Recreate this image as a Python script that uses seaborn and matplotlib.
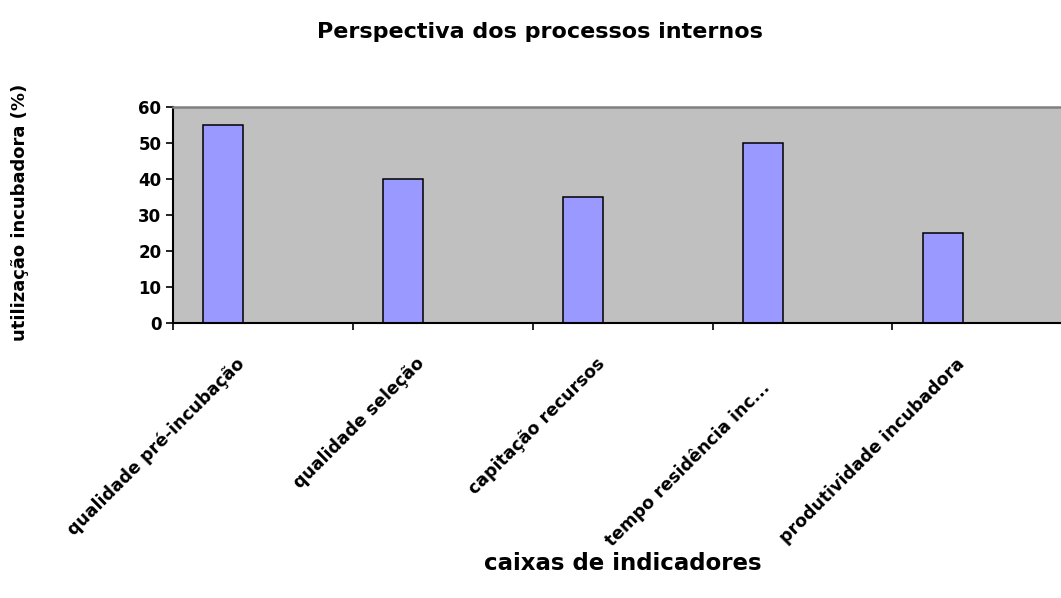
import matplotlib
matplotlib.use("Agg")
import matplotlib.pyplot as plt
from matplotlib.transforms import ScaledTranslation
import seaborn as sns
import pandas as pd

categories = [
    "qualidade pré-incubação",
    "qualidade seleção",
    "capitação recursos",
    "tempo residência inc...",
    "produtividade incubadora",
]
values = [55, 40, 35, 50, 25]
y_ticks = [0, 10, 20, 30, 40, 50, 60]

title = "Perspectiva dos processos internos"
x_title = "caixas de indicadores"
y_title = "utilização incubadora (%)"

sns.set_style("white")
plt.rcParams["font.family"] = ["DejaVu Sans"]
plt.rcParams["font.weight"] = "bold"
plt.rcParams["text.color"] = "black"
plt.rcParams["xtick.color"] = "black"
plt.rcParams["ytick.color"] = "black"

W, H = 1061, 598
fig = plt.figure(figsize=(W / 100, H / 100), dpi=100)
fig.patch.set_facecolor("white")

# plot area runs past the right edge of the canvas
ax = fig.add_axes([172.5 / W, 1 - 322.5 / H, 900 / W, 215.5 / H])
ax.set_facecolor("#C0C0C0")

df = pd.DataFrame({"cat": categories, "val": values})
sns.barplot(data=df, x="cat", y="val", ax=ax, color="#9999FF",
            width=0.225, saturation=1, edgecolor="black", linewidth=1.1)

offset = 0.28
ax.set_xlim(-offset, len(categories) - offset)
ax.set_ylim(0, 60)
ax.set_yticks(y_ticks)
ax.set_yticklabels([str(v) for v in y_ticks], fontsize=12, fontweight="bold")

# category boundaries carry the tick marks, names sit between them
ax.set_xticks([i - offset for i in range(len(categories))])
ax.set_xticklabels([""] * len(categories))
centers = [i - offset + 0.5 for i in range(len(categories))]
ax.set_xticks(centers, minor=True)
ax.set_xticklabels(categories, minor=True, rotation=45, ha="right",
                   va="top", rotation_mode="anchor", fontsize=12.5,
                   fontweight="bold")
ax.tick_params(axis="x", which="minor", length=0, pad=0)
ax.tick_params(axis="x", which="major", direction="out", length=5,
               width=1.2, color="black", bottom=True)
ax.tick_params(axis="y", direction="out", length=5, width=1.2,
               color="black", left=True, pad=3)

for i, lab in enumerate(ax.get_xticklabels(minor=True)):
    dx, dy = -27, -32
    if i == 3:
        dx, dy = -42, -56
    lab.set_transform(lab.get_transform() +
                      ScaledTranslation(dx / 100, dy / 100, fig.dpi_scale_trans))

ax.set_xlabel("")
ax.set_ylabel("")
for side in ["left", "bottom"]:
    ax.spines[side].set_color("black")
    ax.spines[side].set_linewidth(1.5)
ax.spines["top"].set_color("#808080")
ax.spines["top"].set_linewidth(1.8)
ax.spines["right"].set_visible(False)

fig.text(540 / W, 1 - 32 / H, title, ha="center", va="center",
         fontsize=16, fontweight="bold")
fig.text(623 / W, 1 - 563 / H, x_title, ha="center", va="center",
         fontsize=16.5, fontweight="bold")
fig.text(20 / W, 1 - 212 / H, y_title, ha="center", va="center",
         rotation=90, fontsize=13, fontweight="bold")

fig.savefig("out.png", dpi=100)
